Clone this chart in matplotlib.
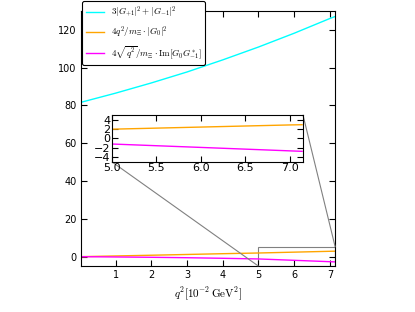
import numpy as np
import matplotlib
matplotlib.use("Agg")
import matplotlib.pyplot as plt
from mpl_toolkits.axes_grid1.inset_locator import mark_inset

# q^2 in units of 10^-2 GeV^2
q2 = [0.0, 1.0, 2.0, 3.0, 4.0, 5.0, 6.0, 7.0, 7.14]
g_trans = [81.5, 86.5, 91.9, 97.7, 104.1, 110.9, 118.2, 126.0, 127.0]
g_long = [0.0, 0.38, 0.77, 1.17, 1.58, 1.95, 2.4, 2.85, 2.9]
g_interf = [0.0, -0.15, -0.32, -0.55, -0.85, -1.2, -1.92, -2.65, -2.75]

labels = [r"$3|G_{+1}|^2+|G_{-1}|^2$",
          r"$4q^2/m_{\Xi}\cdot|G_0|^2$",
          r"$4\sqrt{q^2}/m_{\Xi}\cdot\mathrm{Im}[G_0G^*_{-1}]$"]
colors = ["cyan", "orange", "magenta"]

plt.rcParams["mathtext.fontset"] = "cm"
plt.rcParams["xtick.direction"] = "in"
plt.rcParams["ytick.direction"] = "in"
plt.rcParams["xtick.top"] = True
plt.rcParams["ytick.right"] = True
plt.rcParams["xtick.major.size"] = 4
plt.rcParams["ytick.major.size"] = 4
plt.rcParams["xtick.major.pad"] = 3
plt.rcParams["ytick.major.pad"] = 3

fig = plt.figure(figsize=(4.15, 3.12), dpi=100)
ax = fig.add_axes([0.195, 0.147, 0.612, 0.818])

for y, c, lab in zip([g_trans, g_long, g_interf], colors, labels):
    ax.plot(q2, y, color=c, lw=1, label=lab)

ax.set_xlim(0.03, 7.14)
ax.set_ylim(-5, 130)
ax.set_xticks([1, 2, 3, 4, 5, 6, 7])
ax.set_yticks([0, 20, 40, 60, 80, 100, 120])
ax.tick_params(labelsize=7)
ax.set_xlabel(r"$q^2[10^{-2}\,\mathrm{GeV}^2]$", fontsize=8)

leg = ax.legend(loc="upper left", bbox_to_anchor=(82 / 415, 1 - 1 / 312),
                bbox_transform=fig.transFigure, borderaxespad=0,
                fontsize=6.5, handlelength=2.0, fancybox=True, framealpha=1,
                edgecolor="black")
leg.get_frame().set_linewidth(0.8)

axins = fig.add_axes([0.270, 0.481, 0.460, 0.151])
for y, c in zip([g_trans, g_long, g_interf], colors):
    axins.plot(q2, y, color=c, lw=1)
axins.set_xlim(5.0, 7.15)
axins.set_ylim(-5, 5)
axins.set_xticks([5.0, 5.5, 6.0, 6.5, 7.0])
axins.set_yticks([-4, -2, 0, 2, 4])
axins.tick_params(labelsize=8, pad=1)
mark_inset(ax, axins, loc1=1, loc2=3, fc="none", ec="0.5", lw=0.8)

fig.savefig("out.png", dpi=100, facecolor="white")
